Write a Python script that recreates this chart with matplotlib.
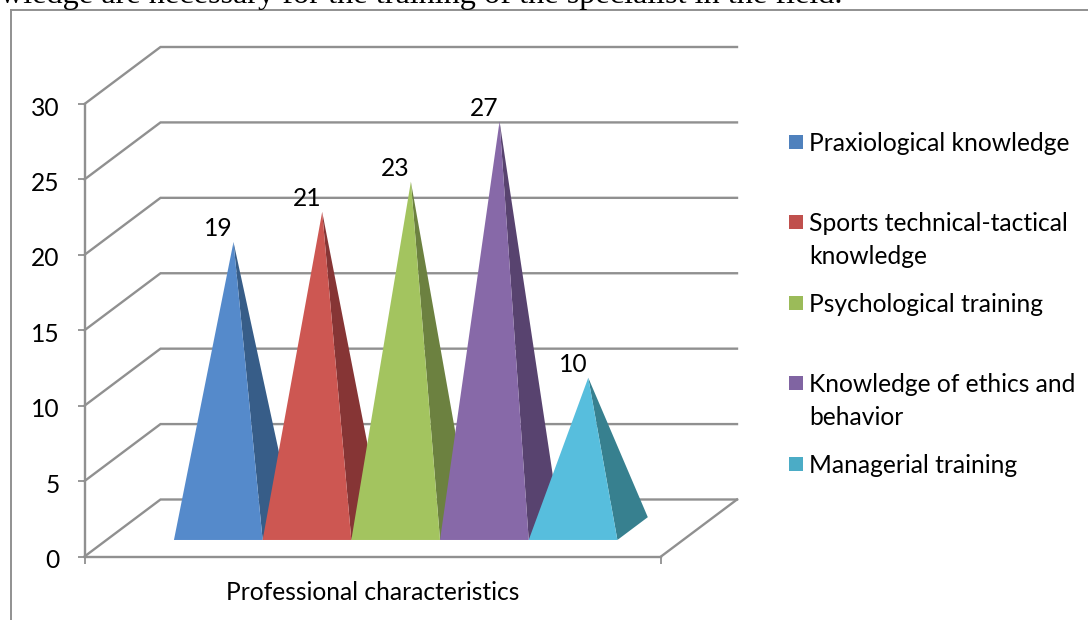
import matplotlib
matplotlib.use('Agg')
import matplotlib.pyplot as plt
from matplotlib.patches import Rectangle
from matplotlib.lines import Line2D
from matplotlib.transforms import ScaledTranslation

plt.rcParams['font.family'] = ['Lato', 'DejaVu Sans']

W, H = 1088, 620
GRAY = '#909090'
FS = 17.7

series = ['Praxiological knowledge', 'Sports technical-tactical\nknowledge',
          'Psychological training', 'Knowledge of ethics and\nbehavior',
          'Managerial training']
values = [19, 21, 23, 27, 10]
front_colors = ['#558ACB', '#CD5752', '#A3C45F', '#8769A8', '#57BEDD']
side_colors = ['#375D88', '#863535', '#6C8140', '#58436F', '#37808F']
swatch_colors = ['#4F81BD', '#C0504D', '#9BBB59', '#8064A2', '#4BACC6']
legend_y = [142, 222, 303, 383, 464]
y_ticks = [0, 5, 10, 15, 20, 25, 30]
category = 'Professional characteristics'

fig = plt.figure(figsize=(W / 100, H / 100), dpi=100)
ax = fig.add_axes([84.5 / W, (H - 556.5) / H, 576.5 / W, 452.5 / H])
ax.set_xlim(0, 6.5)
ax.set_ylim(0, 30)
ax.patch.set_alpha(0)

# oblique projection: depth 0 is the front plane, depth 1 the back wall
DX = 76 / 576.5 * 6.5
DY = 57 / 452.5 * 30


def proj(x, y, d):
    return x + d * DX, y + d * DY


# back wall gridlines and side wall
for v in y_ticks:
    xs, ys = zip(proj(0, v, 0), proj(0, v, 1), proj(6.5, v, 1))
    ax.plot(xs, ys, color=GRAY, lw=1.7, clip_on=False, zorder=1, solid_joinstyle='miter')
xs, ys = zip(proj(6.5, 0, 0), proj(6.5, 0, 1))
ax.plot(xs, ys, color=GRAY, lw=1.7, clip_on=False, zorder=1)

# pyramids, left to right so each one covers the previous side face
d_front, d_back = 0.29, 0.69
start = 0.76
for i, v in enumerate(values):
    x0 = start + i
    x1 = x0 + 1
    xc = x0 + 0.5
    apex = proj(xc, v, (d_front + d_back) / 2)
    fl = proj(x0, 0, d_front)
    fr = proj(x1, 0, d_front)
    br = proj(x1, 0, d_back)
    xs, ys = zip(apex, fr, br)
    ax.fill(xs, ys, color=side_colors[i], lw=0, clip_on=False, zorder=2 + i)
    xs, ys = zip(apex, fl, fr)
    ax.fill(xs, ys, color=front_colors[i], lw=0, clip_on=False, zorder=2 + i)
    ax.annotate(str(v), xy=apex, xytext=(-11, 9.5), textcoords='offset points',
                ha='center', va='center', fontsize=FS, color='black',
                annotation_clip=False, zorder=10)

for s in ['top', 'right']:
    ax.spines[s].set_visible(False)
for s in ['left', 'bottom']:
    ax.spines[s].set_color(GRAY)
    ax.spines[s].set_linewidth(1.7)
ax.set_yticks(y_ticks)
ax.set_xticks([0, 6.5])
ax.set_xticklabels(['', ''])
ax.tick_params(colors=GRAY, length=5, width=1.3, labelcolor='black', labelsize=FS, pad=13)
# nudge the value labels down a little
for lab in ax.get_yticklabels():
    lab.set_transform(lab.get_transform() + ScaledTranslation(0, -2 / 100, fig.dpi_scale_trans))
ax.text(3.25, -36 / 452.5 * 30, category, ha='center', va='center', fontsize=FS)

# legend entries sit at uneven spacing, so they are placed one by one
for name, c, y in zip(series, swatch_colors, legend_y):
    fig.add_artist(Rectangle((789 / W, 1 - (y + 7) / H), 14 / W, 14 / H, color=c, lw=0,
                             transform=fig.transFigure))
    fig.text(809 / W, 1 - (y - 10) / H, name, ha='left', va='top', fontsize=FS, linespacing=1.52)

# chart frame and the line of body text above it
fig.add_artist(Line2D([11 / W, 11 / W], [0, 1 - 10 / H], color=GRAY, lw=1.4))
fig.add_artist(Line2D([11 / W, 1], [1 - 10 / H, 1 - 10 / H], color=GRAY, lw=1.4))
fig.text(0, 1 - 3 / H, 'wledge are necessary for the training of the specialist in the field.',
         family='Liberation Serif', fontsize=23.2, ha='left', va='baseline')

fig.savefig('out.png', dpi=100)
